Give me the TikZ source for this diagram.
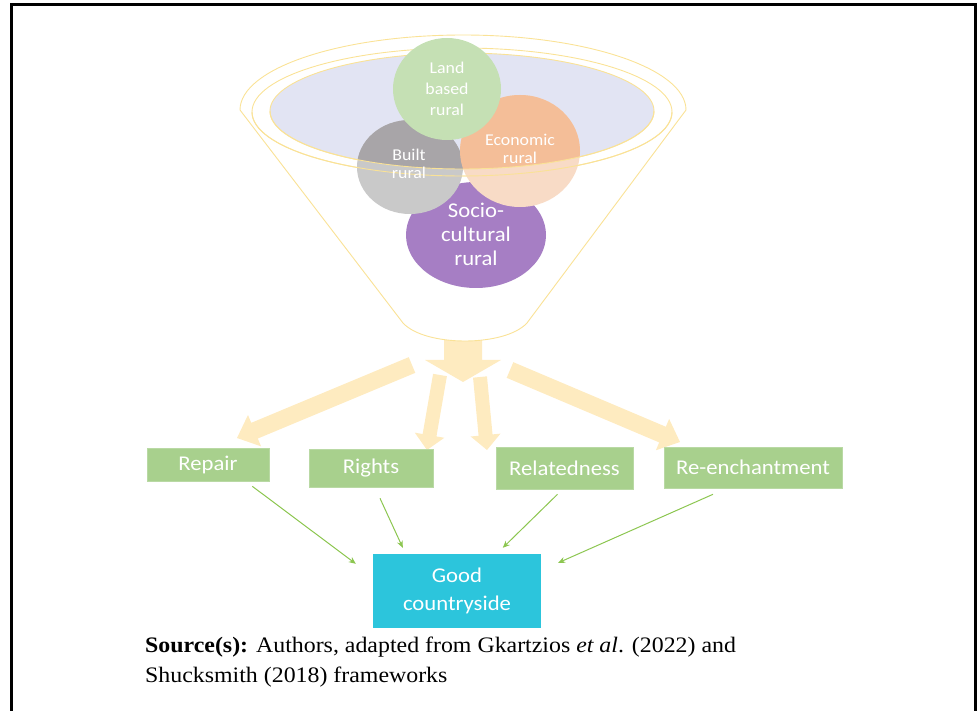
\documentclass[tikz,border=0pt]{standalone}
\usepackage{fontspec}
\setmainfont{Liberation Serif}[FakeStretch=1.08]
\newfontfamily\calib{Carlito}[FakeStretch=1.08]
\usetikzlibrary{calc,arrows.meta}
\definecolor{funnelline}{RGB}{250,226,150}
\definecolor{lav}{RGB}{226,228,243}
\definecolor{bigarr}{RGB}{254,235,192}
\definecolor{boxgreen}{RGB}{168,208,141}
\definecolor{cyanbox}{RGB}{44,197,220}
\definecolor{conn}{RGB}{140,198,80}
\definecolor{landgreen}{RGB}{197,224,180}
\definecolor{greylo}{RGB}{201,201,201}
\definecolor{greyhi}{RGB}{168,165,168}
\definecolor{peachlo}{RGB}{248,219,198}
\definecolor{peachhi}{RGB}{244,190,152}
\definecolor{purp}{RGB}{166,126,196}
\newcommand\blockarr[5]{%
  \coordinate (ba-h) at ($(#2)!#5!(#1)$);
  \fill[bigarrow] ($(#1)!#3!90:(#2)$) -- ($(ba-h)!#3!-90:(#1)$) -- ($(ba-h)!#4!-90:(#1)$) -- (#2)
    -- ($(ba-h)!#4!90:(#1)$) -- ($(ba-h)!#3!90:(#1)$) -- ($(#1)!#3!-90:(#2)$) -- cycle;
}
\tikzset{
  bigarrow/.style={fill=bigarr},
  funnel/.style={draw=funnelline, line width=0.9pt},
  ctext/.style={text=white, align=center, inner sep=0pt},
  gbox/.style={fill=boxgreen, draw=boxgreen!80!white, line width=0.6pt, text=white,
    font=\calib\fontsize{21}{25}\selectfont, inner sep=0pt},
  goodbox/.style={fill=cyanbox, text=white, align=center, inner sep=0pt,
    font=\calib\fontsize{21}{28}\selectfont},
  conn/.style={draw=conn, line width=1pt, -{Stealth[length=7pt,width=6pt]}},
  srctext/.style={anchor=base west, inner sep=0pt, font=\fontsize{22.1}{30}\selectfont}
}
\begin{document}
\begin{tikzpicture}[x=1pt,y=-1pt]
\useasboundingbox (0,0) rectangle (978,711);
% frame
\draw[line width=3.3pt] (11.7,711) -- (11.7,4.4) -- (975.5,4.4) -- (975.5,711);

% big arrows
\coordinate (tC) at (463,334); \coordinate (pC) at (463,382);
\coordinate (tL) at (412,365); \coordinate (pL) at (237,438);
\coordinate (tR1) at (440,375); \coordinate (pR1) at (427,450);
\coordinate (tR2) at (480,377); \coordinate (pR2) at (487,450);
\coordinate (tR) at (510,370); \coordinate (pR) at (680,442);
\blockarr{tC}{pC}{19pt}{38pt}{22pt}
\blockarr{tL}{pL}{8.5pt}{17pt}{19pt}
\blockarr{tR1}{pR1}{7pt}{15pt}{15pt}
\blockarr{tR2}{pR2}{7pt}{15pt}{15pt}
\blockarr{tR}{pR}{8.5pt}{17pt}{19pt}

% funnel body
\filldraw[funnel, fill=white] (240,110) -- (403,323) .. controls (425,347) and (505,347) .. (527,323) -- (686,110);
\draw[funnel] (686,110) arc[start angle=0, end angle=180, x radius=223pt, y radius=75pt];
\draw[funnel] (462,112) ellipse[x radius=210pt, y radius=64pt];
\filldraw[funnel, fill=lav] (462,111) ellipse[x radius=192pt, y radius=58pt];

% circles
\fill[purp] (476,235) ellipse[x radius=70pt, y radius=53pt];
\fill[greylo] (410,167) ellipse[x radius=53pt, y radius=47pt];
\fill[peachlo] (520,151) ellipse[x radius=60pt, y radius=56pt];
\begin{scope}
  \clip (462,111) ellipse[x radius=192pt, y radius=58pt];
  \fill[greyhi] (410,167) ellipse[x radius=53pt, y radius=47pt];
  \fill[peachhi] (520,151) ellipse[x radius=60pt, y radius=56pt];
\end{scope}
\fill[landgreen] (447,89) ellipse[x radius=54pt, y radius=51pt];
% front rim
\draw[funnel] (462,112) ++(-210pt,0) arc[start angle=180, end angle=360, x radius=210pt, y radius=64pt];
\draw[funnel] (462,111) ++(-192pt,0) arc[start angle=180, end angle=360, x radius=192pt, y radius=58pt];

% circle labels
\node[ctext, font=\calib\fontsize{16.5}{21}\selectfont] (land) at (447,89) {Land\\based\\rural};
\node[ctext, font=\calib\fontsize{16.5}{18.5}\selectfont] (built) at (409,164) {Built\\rural};
\node[ctext, font=\calib\fontsize{16.5}{18.5}\selectfont] (econ) at (520,149) {Economic\\rural};
\node[ctext, font=\calib\fontsize{21}{24}\selectfont] (socio) at (476,234) {Socio-\\cultural\\rural};

% boxes
\node[gbox, minimum width=122pt, minimum height=33pt] (repair) at (208,464.5) {Repair};
\node[gbox, minimum width=124pt, minimum height=38pt] (rights) at (371,468) {Rights};
\node[gbox, minimum width=137pt, minimum height=42pt] (related) at (564.5,468) {Relatedness};
\node[gbox, minimum width=178pt, minimum height=41pt] (reench) at (753,467.5) {Re-enchantment};
\node[goodbox, minimum width=168pt, minimum height=74pt] (good) at (457,591) {Good\\countryside};

% connectors
\draw[conn] ($(repair.south east)+(-17,5)$) -- ($(good.north west)+(-17,10)$);
\draw[conn] ($(rights.south)+(9,11)$) -- ($(good.north west)+(30,-6)$);
\draw[conn] ($(related.south)+(-7,5)$) -- ($(good.north west)+(130,-6)$);
\draw[conn] ($(reench.south)+(-40,6)$) -- ($(good.north east)+(17,9)$);

% caption
\node[srctext] (src1) at (145,652) {\textbf{Source(s):} Authors, adapted from Gkartzios \textit{et al}. (2022) and};
\node[srctext] (src2) at (145,682) {Shucksmith (2018) frameworks};
\end{tikzpicture}
\end{document}
